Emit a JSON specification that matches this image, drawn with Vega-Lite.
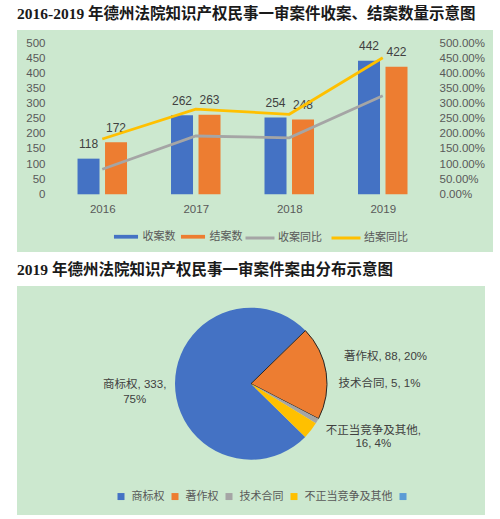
{
  "$schema": "https://vega.github.io/schema/vega-lite/v6.json",
  "background": "#ffffff",
  "padding": {"left": 14, "top": 6, "right": 0, "bottom": 0},
  "spacing": 11,
  "config": {
    "view": {"fill": "#CCE8CF", "stroke": null},
    "font": "'Liberation Sans', 'Noto Sans CJK SC', sans-serif"
  },
  "resolve": {"scale": {"color": "independent"}, "legend": {"color": "independent"}},
  "vconcat": [
    {
      "title": {
        "text": "2016-2019 年德州法院知识产权民事一审案件收案、结案数量示意图",
        "anchor": "start", "frame": "group",
        "font": "'Liberation Serif', 'Noto Sans CJK SC', serif",
        "fontSize": 15.5, "fontWeight": "bold", "color": "#1a1a1a", "offset": 8
      },
      "width": 476,
      "height": 222,
      "data": {"values": [
        {"year": 2016, "series": "收案数", "value": 118},
        {"year": 2017, "series": "收案数", "value": 262},
        {"year": 2018, "series": "收案数", "value": 254},
        {"year": 2019, "series": "收案数", "value": 442},
        {"year": 2016, "series": "结案数", "value": 172},
        {"year": 2017, "series": "结案数", "value": 263},
        {"year": 2018, "series": "结案数", "value": 248},
        {"year": 2019, "series": "结案数", "value": 422},
        {"year": 2016, "series": "收案同比", "value": 0.83},
        {"year": 2017, "series": "收案同比", "value": 1.93},
        {"year": 2018, "series": "收案同比", "value": 1.87},
        {"year": 2019, "series": "收案同比", "value": 3.26},
        {"year": 2016, "series": "结案同比", "value": 1.83},
        {"year": 2017, "series": "结案同比", "value": 2.82},
        {"year": 2018, "series": "结案同比", "value": 2.65},
        {"year": 2019, "series": "结案同比", "value": 4.52}
      ]},
      "encoding": {
        "x": {
          "field": "year", "type": "quantitative",
          "scale": {"domain": [2015.1414, 2020.1257], "nice": false, "zero": false},
          "axis": {
            "values": [2016, 2017, 2018, 2019], "format": "d", "offset": -57.7,
            "labelPadding": 9, "domain": false, "ticks": false, "tickSize": 0, "grid": false,
            "title": null, "labelFontSize": 11.5, "labelColor": "#595959"
          }
        }
      },
      "layer": [
        {
          "encoding": {
            "y": {
              "field": "value", "type": "quantitative",
              "scale": {"domain": [-191.1, 544], "nice": false, "zero": false},
              "axis": {
                "values": [0, 50, 100, 150, 200, 250, 300, 350, 400, 450, 500],
                "offset": -34, "labelPadding": 6, "domain": false, "ticks": false, "tickSize": 0,
                "grid": false, "title": null, "labelFontSize": 11.5, "labelColor": "#595959"
              }
            }
          },
          "layer": [
            {
              "data": {"values": [
                {"value": 0}, {"value": 50}, {"value": 100}, {"value": 150}, {"value": 200}, {"value": 250},
                {"value": 300}, {"value": 350}, {"value": 400}, {"value": 450}, {"value": 500}
              ]},
              "mark": {"type": "rule", "color": "#DADADA", "strokeWidth": 1},
              "encoding": {"x": {"datum": 2015.5}, "x2": {"datum": 2019.52}}
            },
            {
              "transform": [{"filter": "datum.series === '收案数' || datum.series === '结案数'"}],
              "mark": {"type": "bar", "width": 22, "xOffset": {"expr": "datum.series === '收案数' ? -13.75 : 13.75"}},
              "encoding": {
                "y2": {"datum": 0},
                "fill": {
                  "field": "series", "type": "nominal",
                  "scale": {"domain": ["收案数", "结案数"], "range": ["#4472C4", "#ED7D31"]},
                  "legend": {
                    "orient": "none", "legendX": 94.5, "legendY": 192, "direction": "horizontal",
                    "title": null, "symbolType": "M-0.83,-0.13H0.83V0.13H-0.83Z", "symbolSize": 841,
                    "symbolStrokeWidth": 0, "labelFontSize": 11, "labelColor": "#595959",
                    "labelOffset": 2, "columnPadding": 3, "padding": 0
                  }
                }
              }
            },
            {
              "transform": [{"filter": "datum.series === '收案数'"}],
              "mark": {"type": "text", "dx": -13.75, "dy": -10.5, "baseline": "alphabetic", "fontSize": 12, "color": "#404040"},
              "encoding": {"text": {"field": "value", "type": "quantitative"}}
            },
            {
              "transform": [{"filter": "datum.series === '结案数'"}],
              "mark": {"type": "text", "dx": 13.75, "dy": -10.5, "baseline": "alphabetic", "fontSize": 12, "color": "#404040"},
              "encoding": {"text": {"field": "value", "type": "quantitative"}}
            }
          ]
        },
        {
          "transform": [{"filter": "datum.series === '收案同比' || datum.series === '结案同比'"}],
          "mark": {"type": "line", "strokeWidth": 2.75},
          "encoding": {
            "stroke": {
              "field": "series", "type": "nominal",
              "scale": {"domain": ["收案同比", "结案同比"], "range": ["#A5A5A5", "#FFC000"]},
              "legend": {
                "orient": "none", "legendX": 227, "legendY": 192, "direction": "horizontal",
                "title": null, "symbolType": "M-1,0H1", "symbolSize": 841,
                "symbolStrokeWidth": 3, "symbolFillColor": "transparent", "labelFontSize": 11, "labelColor": "#595959",
                "labelOffset": 2, "columnPadding": 3, "padding": 0
              }
            },
            "y": {
              "field": "value", "type": "quantitative",
              "scale": {"domain": [-1.911, 5.44], "nice": false, "zero": false},
              "axis": {
                "orient": "right",
                "values": [0, 0.5, 1, 1.5, 2, 2.5, 3, 3.5, 4, 4.5, 5], "format": ".2%",
                "offset": -58, "labelPadding": 4, "domain": false, "ticks": false, "tickSize": 0,
                "grid": false, "title": null, "labelFontSize": 11.5, "labelColor": "#595959"
              }
            }
          }
        }
      ],
      "resolve": {"scale": {"y": "independent"}}
    },
    {
      "title": {
        "text": "2019 年德州法院知识产权民事一审案件案由分布示意图",
        "anchor": "start", "frame": "group",
        "font": "'Liberation Serif', 'Noto Sans CJK SC', serif",
        "fontSize": 15.5, "fontWeight": "bold", "color": "#1a1a1a", "offset": 4.5
      },
      "width": 468,
      "height": 229,
      "view": {"fill": "#CCE8CF", "stroke": null},
      "data": {"values": [
        {"cat": "商标权", "n": 333, "idx": 1, "label": "商标权, 333,\n75%"},
        {"cat": "著作权", "n": 88, "idx": 2, "label": "著作权, 88, 20%"},
        {"cat": "技术合同", "n": 5, "idx": 3, "label": "技术合同, 5, 1%"},
        {"cat": "不正当竞争及其他", "n": 16, "idx": 4, "label": "不正当竞争及其他,\n16, 4%"}
      ]},
      "layer": [
        {
          "mark": {"type": "point", "opacity": 0},
          "encoding": {
            "x": {"datum": 0, "type": "quantitative", "axis": null},
            "y": {"datum": 0, "type": "quantitative", "axis": null}
          }
        },
        {
          "mark": {"type": "arc", "outerRadius": 76, "yOffset": -16.8, "stroke": "#262626"},
          "encoding": {
            "theta": {"field": "n", "type": "quantitative", "stack": true, "scale": {"range": [2.3471, 8.6303], "nice": false}},
            "order": {"field": "idx", "type": "quantitative"},
            "color": {
              "field": "cat", "type": "nominal",
              "scale": {"domain": ["商标权", "著作权", "技术合同", "不正当竞争及其他", ""], "range": ["#4472C4", "#ED7D31", "#A5A5A5", "#FFC000", "#5B9BD5"]},
              "legend": {
                "orient": "none", "legendX": 98.5, "legendY": 204.8, "direction": "horizontal",
                "title": null, "symbolType": "square", "symbolSize": 49, "symbolStrokeWidth": 0,
                "symbolOpacity": 1, "labelFontSize": 11,
                "labelColor": "#595959", "labelOffset": 5, "columnPadding": 5, "padding": 0
              }
            },
            "strokeWidth": {"condition": {"test": "datum.cat === '著作权'", "value": 1}, "value": 0}
          }
        },
        {
          "mark": {"type": "text", "radius": 116.3, "yOffset": -16.8, "dy": 1, "align": "center", "baseline": "middle", "lineBreak": "\n", "lineHeight": 15, "fontSize": 11.5, "color": "#404040"},
          "encoding": {
            "theta": {"field": "n", "type": "quantitative", "stack": true},
            "order": {"field": "idx", "type": "quantitative"},
            "detail": {"field": "cat", "type": "nominal"},
            "text": {"condition": {"test": "datum.cat === '商标权'", "field": "label"}, "value": ""}
          }
        },
        {
          "mark": {"type": "text", "radius": 94, "yOffset": -16.8, "dy": -12.6, "align": "left", "baseline": "middle", "fontSize": 11.5, "color": "#404040"},
          "encoding": {
            "theta": {"field": "n", "type": "quantitative", "stack": true},
            "order": {"field": "idx", "type": "quantitative"},
            "detail": {"field": "cat", "type": "nominal"},
            "text": {"condition": {"test": "datum.cat === '著作权'", "field": "label"}, "value": ""}
          }
        },
        {
          "mark": {"type": "text", "radius": 100, "yOffset": -16.8, "dx": 0.5, "dy": -49, "align": "left", "baseline": "middle", "fontSize": 11.5, "color": "#404040"},
          "encoding": {
            "theta": {"field": "n", "type": "quantitative", "stack": true},
            "order": {"field": "idx", "type": "quantitative"},
            "detail": {"field": "cat", "type": "nominal"},
            "text": {"condition": {"test": "datum.cat === '技术合同'", "field": "label"}, "value": ""}
          }
        },
        {
          "mark": {"type": "text", "radius": 100, "yOffset": -16.8, "dx": 43.5, "dy": -14.5, "align": "center", "baseline": "middle", "lineBreak": "\n", "lineHeight": 13.5, "fontSize": 11.5, "color": "#404040"},
          "encoding": {
            "theta": {"field": "n", "type": "quantitative", "stack": true},
            "order": {"field": "idx", "type": "quantitative"},
            "detail": {"field": "cat", "type": "nominal"},
            "text": {"condition": {"test": "datum.cat === '不正当竞争及其他'", "field": "label"}, "value": ""}
          }
        }
      ]
    }
  ]
}
